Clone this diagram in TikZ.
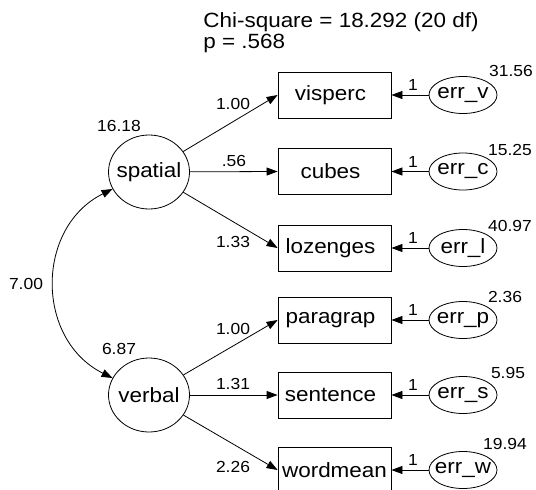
\documentclass[tikz,border=0pt]{standalone}
\usepackage{fontspec}
\setmainfont{Liberation Sans}[FakeStretch=1.09]
\usetikzlibrary{arrows.meta,shapes.geometric}
\newcommand{\lft}[1]{\hspace*{-8pt}#1}
\tikzset{
  big/.style={font=\fontsize{20.6}{22}\selectfont},
  small/.style={font=\fontsize{16}{18}\selectfont},
  obs/.style={draw,rectangle,minimum width=113pt,minimum height=46pt,inner sep=0pt,big},
  lat/.style={draw,ellipse,minimum width=81pt,minimum height=74pt,inner sep=0pt,big},
  errn/.style={draw,ellipse,minimum width=68pt,minimum height=37pt,inner sep=0pt,big},
  lbl/.style={small,inner sep=0pt},
  tip/.tip={Triangle[length=11pt,width=8pt]},
  arr/.style={-tip},
  cov/.style={tip-tip},
}
\begin{document}
\begin{tikzpicture}[x=1pt,y=-1pt,line width=0.8pt]
\useasboundingbox (0,0) rectangle (536,490);
% title
\node[big,anchor=base west,inner sep=0pt] (chi) at (203,27) {Chi-square = 18.292 (20 df)};
\node[big,anchor=base west,inner sep=0pt] (pval) at (203,48) {p = .568};
% observed
\node[obs] (visperc) at (334.5,95) {\lft{visperc}};
\node[obs] (cubes) at (334.5,171.5) {\lft{cubes}};
\node[obs] (lozenges) at (334.5,248) {\lft{lozenges}};
\node[obs] (paragrap) at (334.5,320) {\lft{paragrap}};
\node[obs] (sentence) at (334.5,395) {\lft{sentence}};
\node[obs] (wordmean) at (334.5,470) {wordmean};
% latent
\node[lat] (spatial) at (149,172) {\makebox[0pt]{spatial}};
\node[lat] (verbal) at (149,395) {\makebox[0pt]{verbal}};
% errors
\node[errn] (errv) at (463,95) {\makebox[0pt]{err\_v}};
\node[errn] (errc) at (463,171.5) {\makebox[0pt]{err\_c}};
\node[errn] (errl) at (463,248) {\makebox[0pt]{err\_l}};
\node[errn] (errp) at (463,320) {\makebox[0pt]{err\_p}};
\node[errn] (errs) at (463,395) {\makebox[0pt]{err\_s}};
\node[errn] (errw) at (463,470) {\makebox[0pt]{err\_w}};
% loadings
\draw[arr] (spatial) -- (visperc.west);
\draw[arr] (spatial) -- (cubes.west);
\draw[arr] (spatial) -- (lozenges.west);
\draw[arr] (verbal) -- (paragrap.west);
\draw[arr] (verbal) -- (sentence.west);
\draw[arr] (verbal) -- (wordmean.west);
% error arrows
\draw[arr] (errv.west) -- (visperc.east);
\draw[arr] (errc.west) -- (cubes.east);
\draw[arr] (errl.west) -- (lozenges.east);
\draw[arr] (errp.west) -- (paragrap.east);
\draw[arr] (errs.west) -- (sentence.east);
\draw[arr] (errw.west) -- (wordmean.east);
% covariance
\draw[cov] (spatial.205) .. controls +(-77.3,38.4) and +(-77.3,-38.4) .. (verbal.155);
% labels
\node[lbl] (ls1) at (233,104) {1.00};
\node[lbl] (ls2) at (234,161) {.56};
\node[lbl] (ls3) at (233,242) {1.33};
\node[lbl] (lv1) at (233,329) {1.00};
\node[lbl] (lv2) at (233,384) {1.31};
\node[lbl] (lv3) at (233,467) {2.26};
\node[lbl] (vs) at (119,126) {16.18};
\node[lbl] (vv) at (119,349) {6.87};
\node[lbl] (cv) at (26,284) {7.00};
\node[lbl] (o1) at (413,85) {1};
\node[lbl] (o2) at (413,161.5) {1};
\node[lbl] (o3) at (413,238) {1};
\node[lbl] (o4) at (413,310) {1};
\node[lbl] (o5) at (413,385) {1};
\node[lbl] (o6) at (413,460) {1};
\node[lbl] (e1) at (511,71) {31.56};
\node[lbl] (e2) at (510,150) {15.25};
\node[lbl] (e3) at (510,226) {40.97};
\node[lbl] (e4) at (505,297) {2.36};
\node[lbl] (e5) at (508,373) {5.95};
\node[lbl] (e6) at (505,444) {19.94};
\end{tikzpicture}
\end{document}
